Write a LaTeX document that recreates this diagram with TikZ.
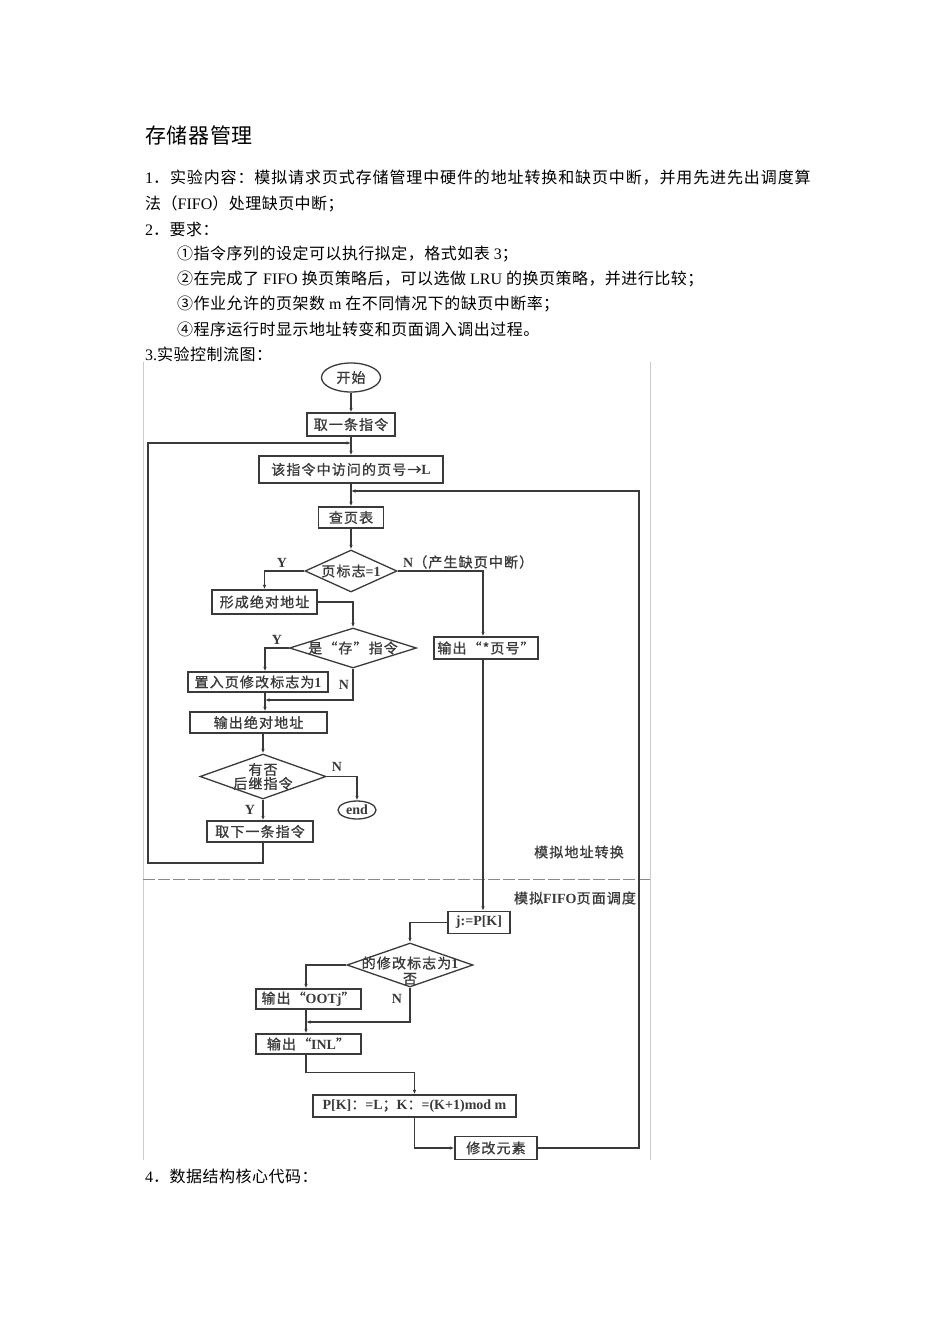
\documentclass[tikz,border=0pt]{standalone}
\usepackage{fontspec}
\setmainfont{Liberation Serif}
\newfontfamily\cj[LetterSpace=3]{Noto Sans CJK SC}
\newfontfamily\cjw[LetterSpace=5.5]{Noto Sans CJK SC}
\newfontfamily\cjf[LetterSpace=8,FakeBold=1]{Noto Sans CJK SC}
\usetikzlibrary{arrows.meta,shapes.geometric}
\definecolor{inkc}{HTML}{3A3A3A}
\definecolor{framec}{HTML}{CCCCCC}
\definecolor{divc}{HTML}{8A8A8A}
\newcommand\zh[1]{{\cj #1}}
\newcommand\la[1]{{\rmfamily\bfseries #1}}
\newcommand\fcj{\fontsize{14}{15.5}\selectfont\cjf}
\newcommand\fla{\fontsize{14}{15}\selectfont\rmfamily\bfseries}
\newcommand\fbody{\fontsize{16}{18}\selectfont\rmfamily}

\begin{document}
\begin{tikzpicture}[
  x=1pt, y=-1pt,
  box/.style={draw=inkc, line width=1.3pt, fill=white, inner sep=0pt, font=\fcj, text=inkc},
  term/.style={ellipse, draw=inkc, line width=1.3pt, fill=white, inner sep=0pt, font=\fcj, text=inkc},
  dia/.style={diamond, draw=inkc, line width=1.3pt, fill=white, inner sep=0pt},
  dtext/.style={inner sep=0pt, font=\fcj, text=inkc, align=center},
  yn/.style={inner sep=0pt, font=\fla, text=inkc},
  body/.style={anchor=west, inner sep=0pt, font=\fbody},
  arrow/.style={-{Latex[length=4.5pt,width=3.5pt]}, draw=inkc, line width=1.1pt},
  link/.style={draw=inkc, line width=1.1pt},
  pagerule/.style={draw=framec, line width=1pt},
  divider/.style={draw=divc, line width=1pt, dash pattern=on 12pt off 3pt}
]
\fill[white] (0,0) rectangle (950,1344);
\useasboundingbox (0,0) rectangle (950,1344);

\node[body, font=\fontsize{21}{23}\selectfont\cj] (title) at (145,135) {存储器管理};
\node[body] (intro1) at (145,178) {1{\cjw ．实验内容：模拟请求页式存储管理中硬件的地址转换和缺页中断，并用先进先出调度算}};
\node[body] (intro2) at (145,204) {\zh{法（}FIFO\zh{）处理缺页中断；}};
\node[body] (req) at (145,229) {2\zh{．要求：}};
\node[body] (req1) at (177,254) {\zh{①指令序列的设定可以执行拟定，格式如表} 3\zh{；}};
\node[body] (req2) at (177,279) {\zh{②在完成了} FIFO \zh{换页策略后，可以选做} LRU \zh{的换页策略，并进行比较；}};
\node[body] (req3) at (177,304) {\zh{③作业允许的页架数} m \zh{在不同情况下的缺页中断率；}};
\node[body] (req4) at (177,329) {\zh{④程序运行时显示地址转变和页面调入调出过程。}};
\node[body] (flowhead) at (145,354) {3.\zh{实验控制流图：}};
\node[body] (codehead) at (145,1176) {4\zh{．数据结构核心代码：}};

\draw[pagerule] (143,362) -- (143,1160);
\draw[pagerule] (650,362) -- (650,1160);
\draw[divider] (143,879) -- (650,879);

\coordinate (colL) at (265,0);
\coordinate (colR) at (483,0);
\coordinate (colB) at (306,0);
\coordinate (joinTop) at (351,443);
\coordinate (loopL) at (148,863);
\coordinate (joinMid) at (351,491);
\coordinate (retR) at (639,491);
\coordinate (joinS) at (265,700);
\coordinate (joinB) at (306,1022);

\node[term, minimum width=59pt, minimum height=29pt] (start) at (351,377.5) {开始};
\node[box, minimum width=88pt, minimum height=23pt] (fetch) at (351,424.5) {取一条指令};
\node[box, minimum width=184pt, minimum height=27pt] (page) at (351,469.5) {该指令中访问的页号→\la{L}};
\node[box, minimum width=65pt, minimum height=21pt] (lookup) at (351,517.5) {查页表};
\node[dia, minimum width=92pt, minimum height=42pt] (flag) at (351,571) {};
\node[dtext] (flagt) at (flag.center) {页标志\la{=1}};
\node[box, minimum width=105pt, minimum height=24pt] (absaddr) at (264.5,602) {形成绝对地址};
\node[dia, minimum width=127pt, minimum height=40pt] (store) at (353,648) {};
\node[dtext] (storet) at (store.center) {是“存”指令};
\node[box, minimum width=140pt, minimum height=20pt] (setmod) at (258,682) {置入页修改标志为\la{1}};
\node[box, minimum width=137pt, minimum height=21pt] (outabs) at (258.5,722.5) {输出绝对地址};
\node[dia, minimum width=126pt, minimum height=45pt] (next) at (263,776.5) {};
\node[dtext, font=\fontsize{14}{14}\selectfont\cjf] (nextt) at (next.center) {有否\\后继指令};
\node[term, minimum width=38pt, minimum height=18pt, font=\fla] (end) at (357,810) {end};
\node[box, minimum width=106pt, minimum height=21pt] (fetchnext) at (260,831.5) {取下一条指令};
\node[box, minimum width=104pt, minimum height=22pt] (outpage) at (486,648) {输出“*页号”};

\node[box, minimum width=62pt, minimum height=22pt, font=\fla] (jpk) at (479,922.5) {j:=P[K]};
\node[dia, minimum width=126pt, minimum height=44pt] (mod) at (410,965) {};
\node[dtext] (modt) at (410,963) {的修改标志为\la{1}};
\node[dtext] (modt2) at (410,979) {否};
\node[box, minimum width=105pt, minimum height=20pt] (outoot) at (308.5,999) {输出“\la{OOTj}”};
\node[box, minimum width=105pt, minimum height=20pt] (outinl) at (308.5,1044) {输出“\la{INL}”};
\node[box, minimum width=203pt, minimum height=22pt] (update) at (414.5,1106) {\la{P[K]}：\la{=L}；\la{K}：\la{=(K+1)mod m}};
\node[box, minimum width=82pt, minimum height=23pt] (modify) at (496,1148) {修改元素};

\draw[arrow] (start) -- (fetch);
\draw[arrow] (fetch) -- (page);
\draw[arrow] (fetchnext.south -| next) |- (loopL) |- (joinTop);
\draw[arrow] (page) -- (lookup);
\draw[arrow] (modify.east) -| (retR) -- (joinMid);
\draw[arrow] (lookup) -- (flag);
\draw[arrow] (flag.west) -| (absaddr.north);
\draw[arrow] (absaddr.east) -| (store.north);
\draw[arrow] (store.west) -| (setmod.north -| colL);
\draw[arrow] (store.south) |- (joinS);
\draw[arrow] (setmod.south -| colL) -- (outabs.north -| colL);
\draw[arrow] (outabs.south -| next) -- (next.north);
\draw[arrow] (next.east) -| (end.north);
\draw[arrow] (next.south) -- (fetchnext.north -| next);
\draw[arrow] (flag.east) -| (outpage.north -| colR);
\draw[arrow] (outpage.south -| colR) -- (jpk.north -| colR);
\draw[arrow] (jpk.west) -| (mod.north);
\draw[arrow] (mod.west) -| (outoot.north -| colB);
\draw[arrow] (mod.south) |- (joinB);
\draw[arrow] (outoot.south -| colB) -- (outinl.north -| colB);
\draw[arrow] (outinl.south -| colB) -- ++(0,18) -| (update.north);
\draw[arrow] (update.south) |- (modify.west);

\node[yn] (yflag) at (282,563) {Y};
\node[anchor=west, inner sep=0pt, font=\fcj, text=inkc] (nflag) at (403,562) {\la{N}（产生缺页中断）};
\node[yn] (ystore) at (277,640) {Y};
\node[yn] (nstore) at (344,685) {N};
\node[yn] (nnext) at (337,767) {N};
\node[yn] (ynext) at (250,810) {Y};
\node[yn] (nmod) at (397,999) {N};
\node[font=\fcj, text=inkc, inner sep=0pt] (lblA) at (579,852) {模拟地址转换};
\node[font=\fcj, text=inkc, inner sep=0pt] (lblB) at (575,898) {模拟\la{FIFO}页面调度};
\end{tikzpicture}
\end{document}
